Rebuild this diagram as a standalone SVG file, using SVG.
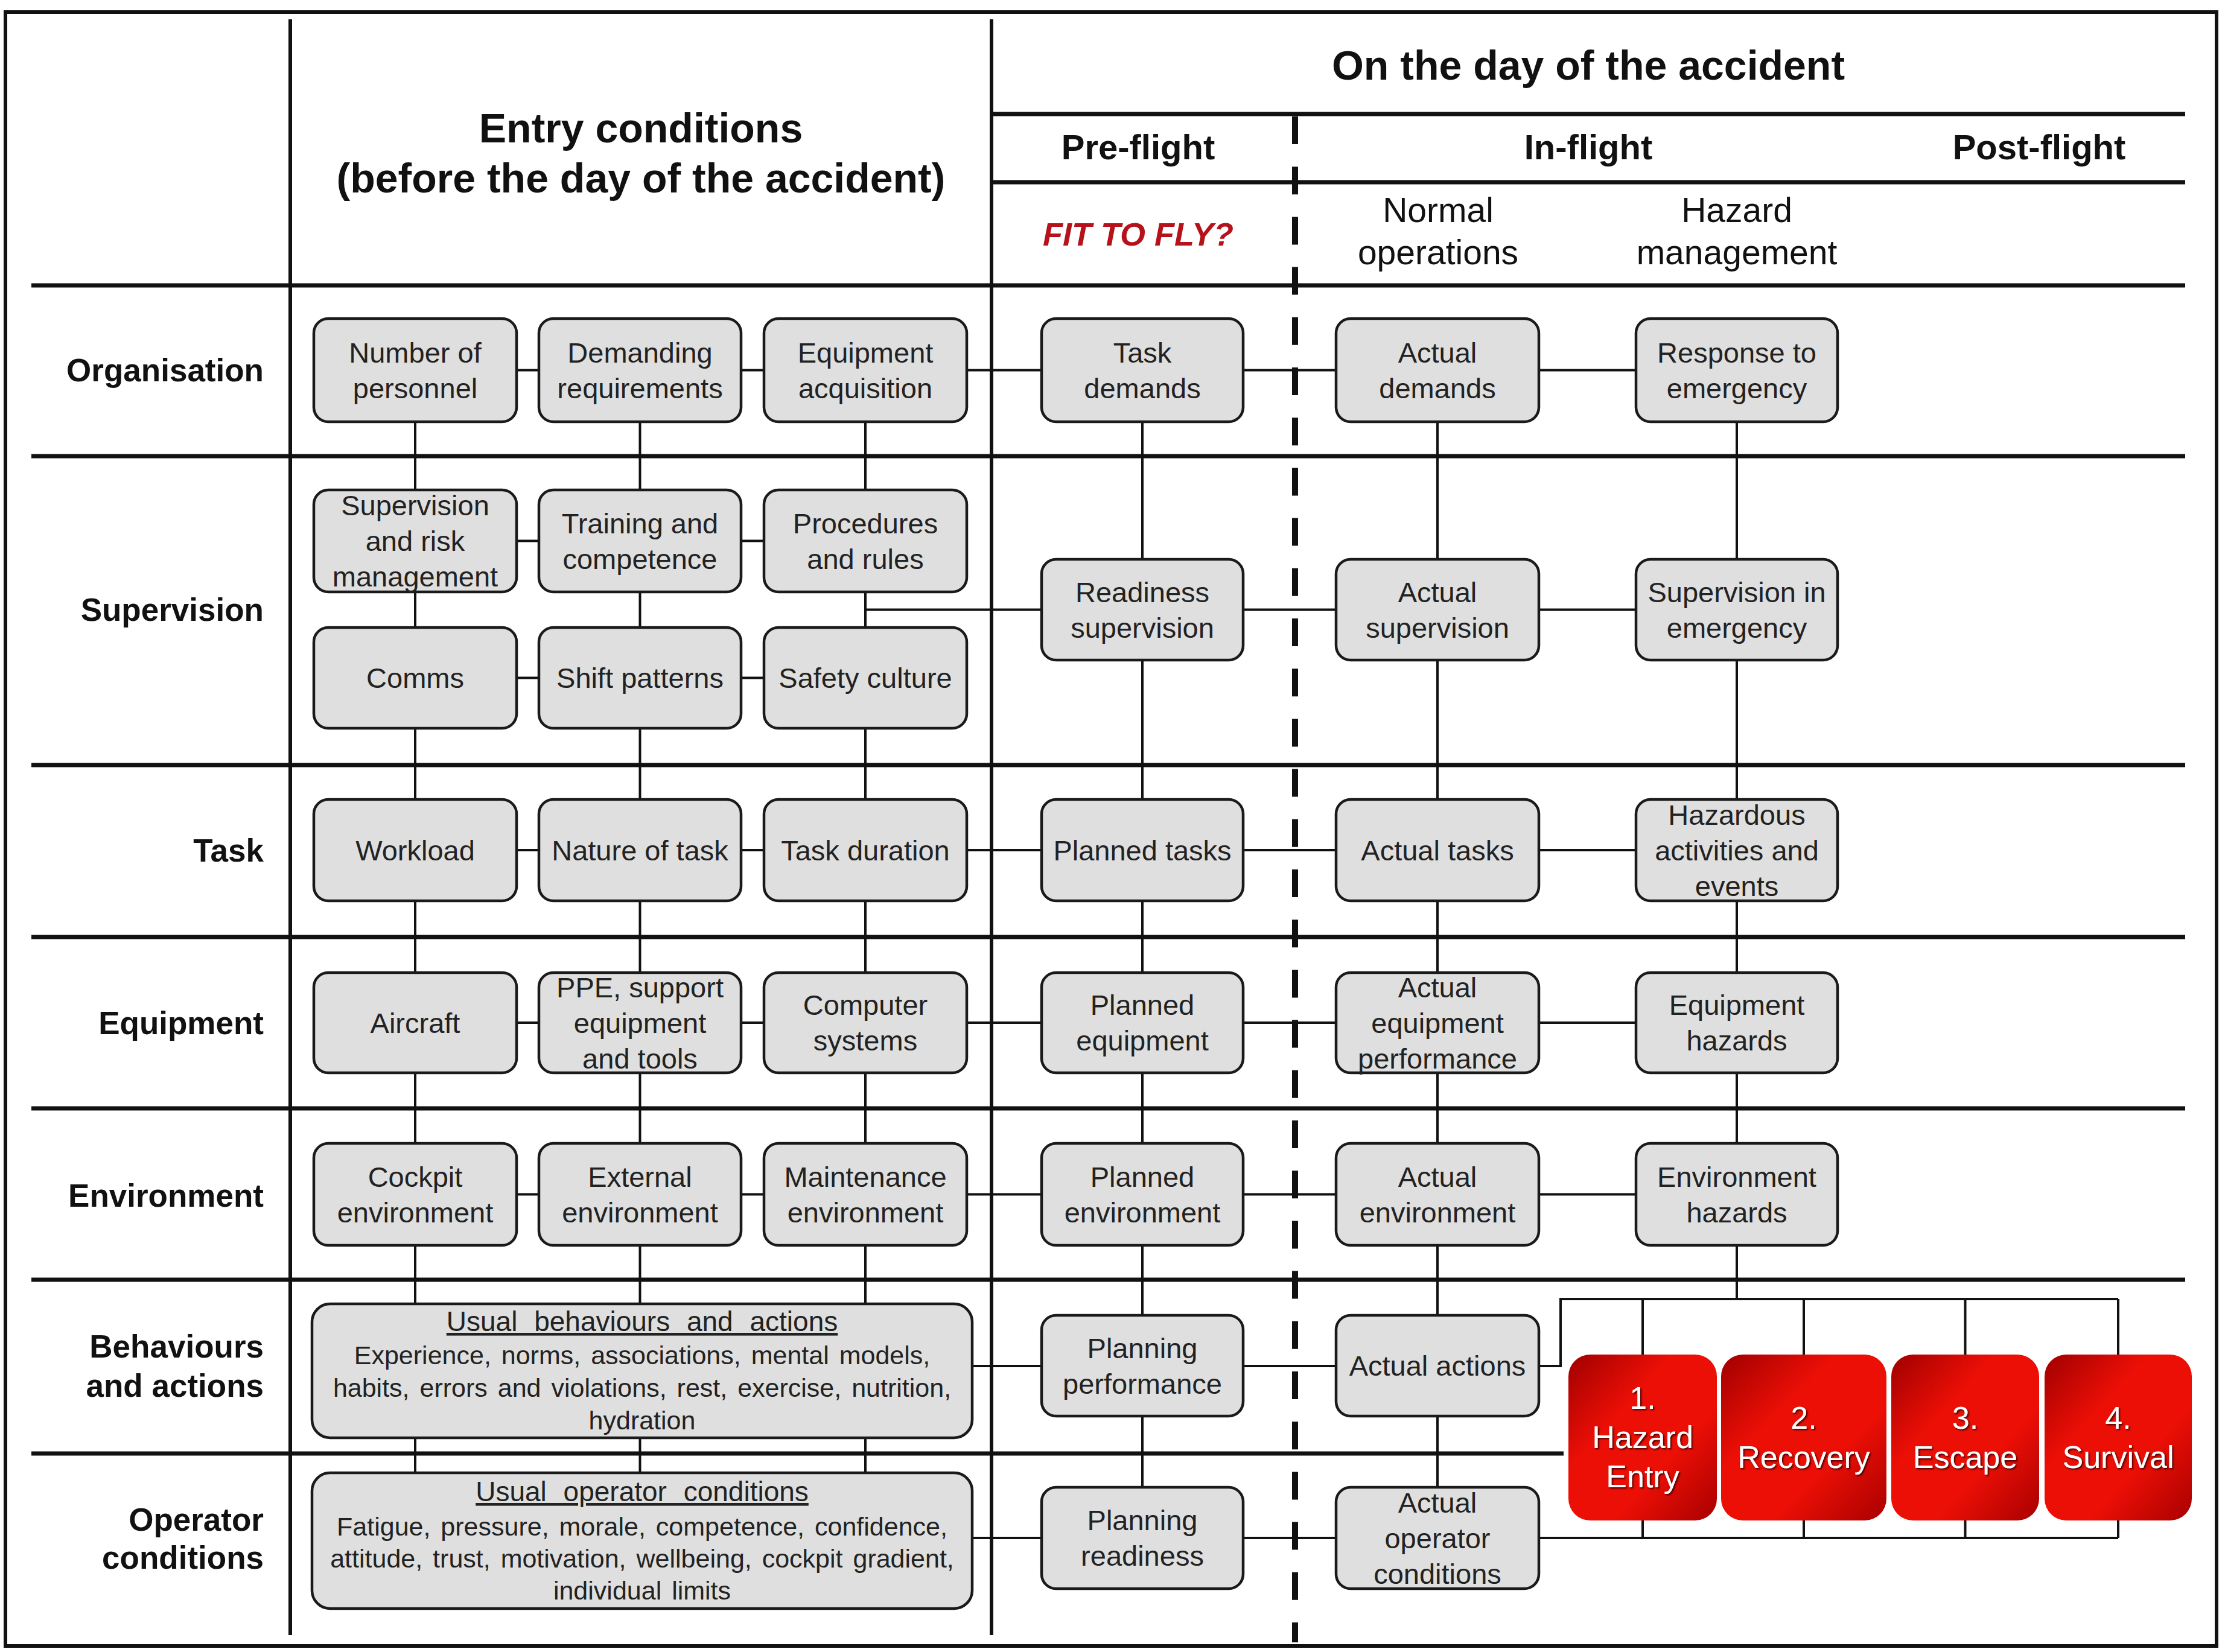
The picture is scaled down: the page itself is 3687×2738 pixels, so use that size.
<svg xmlns="http://www.w3.org/2000/svg" width="3687" height="2738" viewBox="0 0 3687 2738">
<defs>
<linearGradient id="rg" x1="0" y1="0" x2="1" y2="1">
<stop offset="0" stop-color="#a00000"/>
<stop offset="0.35" stop-color="#ec0f06"/>
<stop offset="0.65" stop-color="#ec0f06"/>
<stop offset="1" stop-color="#a80000"/>
</linearGradient>
<filter id="sh" x="-10%" y="-10%" width="130%" height="130%">
<feDropShadow dx="2" dy="2" stdDeviation="1.5" flood-color="#300" flood-opacity="0.9"/>
</filter>
</defs>
<style>
.grid{stroke:#111;stroke-width:7;fill:none}
.col{stroke:#111;stroke-width:6;fill:none}
.dash{stroke:#111;stroke-width:10;fill:none;stroke-dasharray:46 37.2}
.conn{stroke:#111;stroke-width:4;fill:none}
.box{fill:#dfdfdf;stroke:#1a1a1a;stroke-width:4.5}
.red{fill:url(#rg)}
text{font-family:"Liberation Sans",Arial,sans-serif}
.t{font-size:47px;fill:#222;text-anchor:middle}
.bt{font-size:43px;fill:#222;text-anchor:middle;word-spacing:5px}
.btt{font-size:46px;fill:#222;text-anchor:middle;text-decoration:underline;word-spacing:15px}
.rl{font-size:53px;font-weight:bold;fill:#111;text-anchor:end}
.hd{font-size:68px;font-weight:bold;fill:#111;text-anchor:middle}
.ph{font-size:58px;font-weight:bold;fill:#111;text-anchor:middle}
.sh{font-size:57px;fill:#111;text-anchor:middle}
.fit{font-size:54px;font-weight:bold;font-style:italic;fill:#b5121b;text-anchor:middle}
.rt{font-size:52px;fill:#fff;text-anchor:middle;filter:url(#sh)}
</style>
<rect x="0" y="0" width="3687" height="2738" fill="#fff"/>

<g id="grid">
<rect x="9" y="20" width="3664" height="2708" fill="none" stroke="#111" stroke-width="6"/>
<path class="col" d="M481 32V2710M1643 32V2710"/>
<path class="grid" d="M1643 189H3621M1643 302H3621M52 473H3621M52 756H3621M52 1268H3621M52 1553H3621M52 1837H3621M52 2121H3621M52 2409H2591"/>
<path class="dash" d="M2146 193V2722"/>
</g>

<g id="headers">
<text class="hd" x="1062" y="236">Entry conditions</text>
<text class="hd" x="1062" y="319">(before the day of the accident)</text>
<text class="hd" x="2632" y="132">On the day of the accident</text>
<text class="ph" x="1886" y="264">Pre-flight</text>
<text class="ph" x="2632" y="264">In-flight</text>
<text class="ph" x="3379" y="264">Post-flight</text>
<text class="fit" x="1886" y="407">FIT TO FLY?</text>
<text class="sh" x="2383" y="368">Normal</text>
<text class="sh" x="2383" y="438">operations</text>
<text class="sh" x="2878" y="368">Hazard</text>
<text class="sh" x="2878" y="438">management</text>
</g>

<g id="row-labels">
<text class="rl" x="437" y="632">Organisation</text>
<text class="rl" x="437" y="1029">Supervision</text>
<text class="rl" x="437" y="1428">Task</text>
<text class="rl" x="437" y="1714">Equipment</text>
<text class="rl" x="437" y="2000">Environment</text>
<text class="rl" x="437" y="2250">Behaviours</text>
<text class="rl" x="437" y="2315">and actions</text>
<text class="rl" x="437" y="2537">Operator</text>
<text class="rl" x="437" y="2600">conditions</text>
</g>

<g id="connectors">
<path class="conn" d="M688 613.5H2878M688 896.5H1434M688 1123.5H1434M1434 1010.5H2878M688 1409H2878M688 1695H2878M688 1979.5H2878M1611 2264H2586V2153H3510M1611 2549H3510"/>
<path class="conn" d="M688 613V2550M1060.5 613V2550M1434 613V2550M1893 613V2549M2382 613V2549M2878 613V2153"/>
<path class="conn" d="M2722 2153V2245M2989 2153V2245M3256.5 2153V2245M3510 2153V2245M2722 2520V2549M2989 2520V2549M3256.5 2520V2549M3510 2520V2549"/>
</g>

<g id="n-number-of-personnel"><rect class="box" x="520" y="528" width="336" height="171" rx="24"/><text class="t"><tspan x="688" y="600.5">Number of</tspan><tspan x="688" y="659.5">personnel</tspan></text></g>
<g id="n-demanding-requirements"><rect class="box" x="893" y="528" width="335" height="171" rx="24"/><text class="t"><tspan x="1060.5" y="600.5">Demanding</tspan><tspan x="1060.5" y="659.5">requirements</tspan></text></g>
<g id="n-equipment-acquisition"><rect class="box" x="1266" y="528" width="336" height="171" rx="24"/><text class="t"><tspan x="1434" y="600.5">Equipment</tspan><tspan x="1434" y="659.5">acquisition</tspan></text></g>
<g id="n-task-demands"><rect class="box" x="1726" y="528" width="334" height="171" rx="24"/><text class="t"><tspan x="1893" y="600.5">Task</tspan><tspan x="1893" y="659.5">demands</tspan></text></g>
<g id="n-actual-demands"><rect class="box" x="2214" y="528" width="336" height="171" rx="24"/><text class="t"><tspan x="2382" y="600.5">Actual</tspan><tspan x="2382" y="659.5">demands</tspan></text></g>
<g id="n-response-to-emergency"><rect class="box" x="2711" y="528" width="334" height="171" rx="24"/><text class="t"><tspan x="2878" y="600.5">Response to</tspan><tspan x="2878" y="659.5">emergency</tspan></text></g>

<g id="n-supervision-risk"><rect class="box" x="520" y="812" width="336" height="169" rx="24"/><text class="t"><tspan x="688" y="854">Supervision</tspan><tspan x="688" y="913">and risk</tspan><tspan x="688" y="972">management</tspan></text></g>
<g id="n-training-competence"><rect class="box" x="893" y="812" width="335" height="169" rx="24"/><text class="t"><tspan x="1060.5" y="883.5">Training and</tspan><tspan x="1060.5" y="942.5">competence</tspan></text></g>
<g id="n-procedures-rules"><rect class="box" x="1266" y="812" width="336" height="169" rx="24"/><text class="t"><tspan x="1434" y="883.5">Procedures</tspan><tspan x="1434" y="942.5">and rules</tspan></text></g>
<g id="n-comms"><rect class="box" x="520" y="1040" width="336" height="167" rx="24"/><text class="t" x="688" y="1140">Comms</text></g>
<g id="n-shift-patterns"><rect class="box" x="893" y="1040" width="335" height="167" rx="24"/><text class="t" x="1060.5" y="1140">Shift patterns</text></g>
<g id="n-safety-culture"><rect class="box" x="1266" y="1040" width="336" height="167" rx="24"/><text class="t" x="1434" y="1140">Safety culture</text></g>
<g id="n-readiness-supervision"><rect class="box" x="1726" y="927" width="334" height="167" rx="24"/><text class="t"><tspan x="1893" y="997.5">Readiness</tspan><tspan x="1893" y="1056.5">supervision</tspan></text></g>
<g id="n-actual-supervision"><rect class="box" x="2214" y="927" width="336" height="167" rx="24"/><text class="t"><tspan x="2382" y="997.5">Actual</tspan><tspan x="2382" y="1056.5">supervision</tspan></text></g>
<g id="n-supervision-emergency"><rect class="box" x="2711" y="927" width="334" height="167" rx="24"/><text class="t"><tspan x="2878" y="997.5">Supervision in</tspan><tspan x="2878" y="1056.5">emergency</tspan></text></g>

<g id="n-workload"><rect class="box" x="520" y="1325" width="336" height="168" rx="24"/><text class="t" x="688" y="1425.5">Workload</text></g>
<g id="n-nature-of-task"><rect class="box" x="893" y="1325" width="335" height="168" rx="24"/><text class="t" x="1060.5" y="1425.5">Nature of task</text></g>
<g id="n-task-duration"><rect class="box" x="1266" y="1325" width="336" height="168" rx="24"/><text class="t" x="1434" y="1425.5">Task duration</text></g>
<g id="n-planned-tasks"><rect class="box" x="1726" y="1325" width="334" height="168" rx="24"/><text class="t" x="1893" y="1425.5">Planned tasks</text></g>
<g id="n-actual-tasks"><rect class="box" x="2214" y="1325" width="336" height="168" rx="24"/><text class="t" x="2382" y="1425.5">Actual tasks</text></g>
<g id="n-hazardous-activities"><rect class="box" x="2711" y="1325" width="334" height="168" rx="24"/><text class="t"><tspan x="2878" y="1366.5">Hazardous</tspan><tspan x="2878" y="1425.5">activities and</tspan><tspan x="2878" y="1484.5">events</tspan></text></g>

<g id="n-aircraft"><rect class="box" x="520" y="1612" width="336" height="166" rx="24"/><text class="t" x="688" y="1711.5">Aircraft</text></g>
<g id="n-ppe-support"><rect class="box" x="893" y="1612" width="335" height="166" rx="24"/><text class="t"><tspan x="1060.5" y="1652.5">PPE, support</tspan><tspan x="1060.5" y="1711.5">equipment</tspan><tspan x="1060.5" y="1770.5">and tools</tspan></text></g>
<g id="n-computer-systems"><rect class="box" x="1266" y="1612" width="336" height="166" rx="24"/><text class="t"><tspan x="1434" y="1682">Computer</tspan><tspan x="1434" y="1741">systems</tspan></text></g>
<g id="n-planned-equipment"><rect class="box" x="1726" y="1612" width="334" height="166" rx="24"/><text class="t"><tspan x="1893" y="1682">Planned</tspan><tspan x="1893" y="1741">equipment</tspan></text></g>
<g id="n-actual-equipment"><rect class="box" x="2214" y="1612" width="336" height="166" rx="24"/><text class="t"><tspan x="2382" y="1652.5">Actual</tspan><tspan x="2382" y="1711.5">equipment</tspan><tspan x="2382" y="1770.5">performance</tspan></text></g>
<g id="n-equipment-hazards"><rect class="box" x="2711" y="1612" width="334" height="166" rx="24"/><text class="t"><tspan x="2878" y="1682">Equipment</tspan><tspan x="2878" y="1741">hazards</tspan></text></g>

<g id="n-cockpit-environment"><rect class="box" x="520" y="1895" width="336" height="169" rx="24"/><text class="t"><tspan x="688" y="1966.5">Cockpit</tspan><tspan x="688" y="2025.5">environment</tspan></text></g>
<g id="n-external-environment"><rect class="box" x="893" y="1895" width="335" height="169" rx="24"/><text class="t"><tspan x="1060.5" y="1966.5">External</tspan><tspan x="1060.5" y="2025.5">environment</tspan></text></g>
<g id="n-maintenance-environment"><rect class="box" x="1266" y="1895" width="336" height="169" rx="24"/><text class="t"><tspan x="1434" y="1966.5">Maintenance</tspan><tspan x="1434" y="2025.5">environment</tspan></text></g>
<g id="n-planned-environment"><rect class="box" x="1726" y="1895" width="334" height="169" rx="24"/><text class="t"><tspan x="1893" y="1966.5">Planned</tspan><tspan x="1893" y="2025.5">environment</tspan></text></g>
<g id="n-actual-environment"><rect class="box" x="2214" y="1895" width="336" height="169" rx="24"/><text class="t"><tspan x="2382" y="1966.5">Actual</tspan><tspan x="2382" y="2025.5">environment</tspan></text></g>
<g id="n-environment-hazards"><rect class="box" x="2711" y="1895" width="334" height="169" rx="24"/><text class="t"><tspan x="2878" y="1966.5">Environment</tspan><tspan x="2878" y="2025.5">hazards</tspan></text></g>

<g id="n-usual-behaviours"><rect class="box" x="517" y="2161" width="1094" height="222" rx="30"/><text class="btt" x="1064" y="2206">Usual behaviours and actions</text><text class="bt"><tspan x="1064" y="2261">Experience, norms, associations, mental models,</tspan><tspan x="1064" y="2315">habits, errors and violations, rest, exercise, nutrition,</tspan><tspan x="1064" y="2369">hydration</tspan></text></g>
<g id="n-planning-performance"><rect class="box" x="1726" y="2180" width="334" height="167" rx="24"/><text class="t"><tspan x="1893" y="2250.5">Planning</tspan><tspan x="1893" y="2309.5">performance</tspan></text></g>
<g id="n-actual-actions"><rect class="box" x="2214" y="2180" width="336" height="167" rx="24"/><text class="t" x="2382" y="2280">Actual actions</text></g>

<g id="n-usual-operator"><rect class="box" x="517" y="2441" width="1094" height="225" rx="30"/><text class="btt" x="1064" y="2488">Usual operator conditions</text><text class="bt"><tspan x="1064" y="2545">Fatigue, pressure, morale, competence, confidence,</tspan><tspan x="1064" y="2598">attitude, trust, motivation, wellbeing, cockpit gradient,</tspan><tspan x="1064" y="2651">individual limits</tspan></text></g>
<g id="n-planning-readiness"><rect class="box" x="1726" y="2465" width="334" height="168" rx="24"/><text class="t"><tspan x="1893" y="2536">Planning</tspan><tspan x="1893" y="2595">readiness</tspan></text></g>
<g id="n-actual-operator"><rect class="box" x="2214" y="2465" width="336" height="168" rx="24"/><text class="t"><tspan x="2382" y="2506.5">Actual</tspan><tspan x="2382" y="2565.5">operator</tspan><tspan x="2382" y="2624.5">conditions</tspan></text></g>

<g id="n-hazard-entry"><rect class="red" x="2599" y="2245" width="246" height="275" rx="36"/><text class="rt"><tspan x="2722" y="2335">1.</tspan><tspan x="2722" y="2400">Hazard</tspan><tspan x="2722" y="2465">Entry</tspan></text></g>
<g id="n-recovery"><rect class="red" x="2852" y="2245" width="274" height="275" rx="36"/><text class="rt"><tspan x="2989" y="2367.5">2.</tspan><tspan x="2989" y="2432.5">Recovery</tspan></text></g>
<g id="n-escape"><rect class="red" x="3134" y="2245" width="245" height="275" rx="36"/><text class="rt"><tspan x="3256.5" y="2367.5">3.</tspan><tspan x="3256.5" y="2432.5">Escape</tspan></text></g>
<g id="n-survival"><rect class="red" x="3388" y="2245" width="244" height="275" rx="36"/><text class="rt"><tspan x="3510" y="2367.5">4.</tspan><tspan x="3510" y="2432.5">Survival</tspan></text></g>
</svg>
